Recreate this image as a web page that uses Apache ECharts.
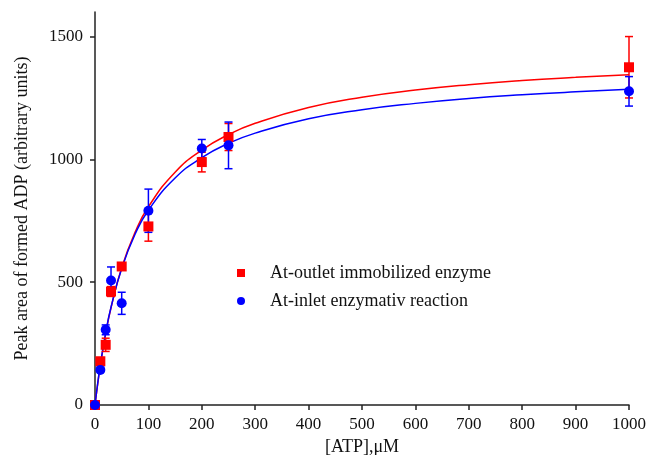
<!DOCTYPE html>
<html lang="en">
<head>
    <meta charset="UTF-8">
    <title>ADP peak area vs ATP</title>
    <script src="https://cdn.jsdelivr.net/npm/echarts@6/dist/echarts.min.js"></script>
    <style>
        html, body { margin: 0; padding: 0; background: #fff; }
        #chart { width: 649px; height: 455px; }
    </style>
</head>
<body>
<div id="chart"></div>
<script>
    // measured points, [ATP] in uM
    const atp = [0, 10, 20, 30, 50, 100, 200, 250, 1000];
    const outletMean = [0, 178, 245, 462, 564, 727, 989, 1091, 1375];
    const outletErr = [0, 15, 27, 20, 12, 60, 40, 55, 125];
    const inletMean = [0, 143, 306, 507, 414, 791, 1044, 1057, 1277];
    const inletErr = [0, 0, 20, 55, 45, 88, 37, 95, 60];

    // fitted curves
    const fitX = [0, 5, 10, 20, 30, 50, 75, 100, 150, 200, 250, 300, 400, 500, 600, 700, 800, 900, 1000];
    const outletFit = [0, 85, 161, 291, 396, 559, 703, 807, 948, 1038, 1101, 1147, 1211, 1253, 1282, 1304, 1321, 1334, 1345];
    const inletFit = [0, 87, 164, 294, 398, 556, 695, 793, 924, 1007, 1065, 1107, 1165, 1202, 1228, 1248, 1263, 1275, 1285];

    const xTicks = [0, 100, 200, 300, 400, 500, 600, 700, 800, 900, 1000];
    const yTicks = [0, 500, 1000, 1500];

    const RED = '#ff0000';
    const BLUE = '#0000ff';
    const FONT = '"Liberation Serif", "DejaVu Serif", serif';

    function pairs(xs, ys) {
        return xs.map((x, i) => [x, ys[i]]);
    }

    function errData(xs, means, errs) {
        return xs.map((x, i) => [x, means[i] - errs[i], means[i] + errs[i]])
            .filter((d, i) => errs[i] > 0);
    }

    function errorBars(color) {
        return function (params, api) {
            const x = api.value(0);
            const lo = api.coord([x, api.value(1)]);
            const hi = api.coord([x, api.value(2)]);
            const w = 4;
            const style = {stroke: color, lineWidth: 1.5};
            return {
                type: 'group',
                children: [
                    {type: 'line', shape: {x1: lo[0], y1: lo[1], x2: hi[0], y2: hi[1]}, style: style},
                    {type: 'line', shape: {x1: hi[0] - w, y1: hi[1], x2: hi[0] + w, y2: hi[1]}, style: style},
                    {type: 'line', shape: {x1: lo[0] - w, y1: lo[1], x2: lo[0] + w, y2: lo[1]}, style: style}
                ]
            };
        };
    }

    const plain = (v) => String(v);

    const chart = echarts.init(document.getElementById('chart'));
    chart.setOption({
        animation: false,
        backgroundColor: '#fff',
        grid: {left: 95, right: 20, top: 12, bottom: 50, outerBoundsMode: 'none', containLabel: false},
        legend: {
            data: [
                {name: 'At-outlet immobilized enzyme', icon: 'rect'},
                {name: 'At-inlet enzymativ reaction', icon: 'circle'}
            ],
            orient: 'vertical',
            left: 232,
            top: 259,
            itemWidth: 8,
            itemHeight: 8,
            itemGap: 10,
            textStyle: {fontFamily: FONT, fontSize: 18, color: '#111', padding: [0, 0, 0, 20]}
        },
        xAxis: {
            type: 'value',
            min: 0,
            max: 1000,
            interval: 100,
            name: '[ATP],\u03bcM',
            nameLocation: 'middle',
            nameGap: 29,
            nameTextStyle: {fontFamily: FONT, fontSize: 18, color: '#111'},
            axisLine: {lineStyle: {color: '#222', width: 1.5}},
            axisTick: {show: true, length: 5, lineStyle: {color: '#222', width: 1.5}, customValues: xTicks},
            axisLabel: {fontFamily: FONT, fontSize: 17, color: '#111', margin: 11, customValues: xTicks, formatter: plain},
            splitLine: {show: false}
        },
        yAxis: {
            type: 'value',
            min: 0,
            max: 1600,
            name: 'Peak area of formed ADP (arbitrary units)',
            nameLocation: 'middle',
            nameGap: 64,
            nameTextStyle: {fontFamily: FONT, fontSize: 18, color: '#111'},
            axisLine: {show: true, lineStyle: {color: '#222', width: 1.5}},
            axisTick: {show: true, length: 5, lineStyle: {color: '#222', width: 1.5}, customValues: yTicks},
            axisLabel: {fontFamily: FONT, fontSize: 17, color: '#111', margin: 12, customValues: yTicks, formatter: plain},
            splitLine: {show: false}
        },
        series: [
            {
                name: 'outlet fit',
                type: 'line',
                data: pairs(fitX, outletFit),
                smooth: true,
                showSymbol: false,
                lineStyle: {color: RED, width: 1.5},
                z: 2
            },
            {
                name: 'inlet fit',
                type: 'line',
                data: pairs(fitX, inletFit),
                smooth: true,
                showSymbol: false,
                lineStyle: {color: BLUE, width: 1.5},
                z: 2
            },
            {
                name: 'outlet err',
                type: 'custom',
                renderItem: errorBars(RED),
                data: errData(atp, outletMean, outletErr),
                z: 3
            },
            {
                name: 'inlet err',
                type: 'custom',
                renderItem: errorBars(BLUE),
                data: errData(atp, inletMean, inletErr),
                z: 3
            },
            {
                name: 'At-outlet immobilized enzyme',
                type: 'scatter',
                symbol: 'rect',
                symbolSize: 10,
                data: pairs(atp, outletMean),
                itemStyle: {color: RED, opacity: 1},
                z: 4
            },
            {
                name: 'At-inlet enzymativ reaction',
                type: 'scatter',
                symbol: 'circle',
                symbolSize: 10,
                data: pairs(atp, inletMean),
                itemStyle: {color: BLUE, opacity: 1},
                z: 4
            }
        ]
    });
</script>
</body>
</html>
